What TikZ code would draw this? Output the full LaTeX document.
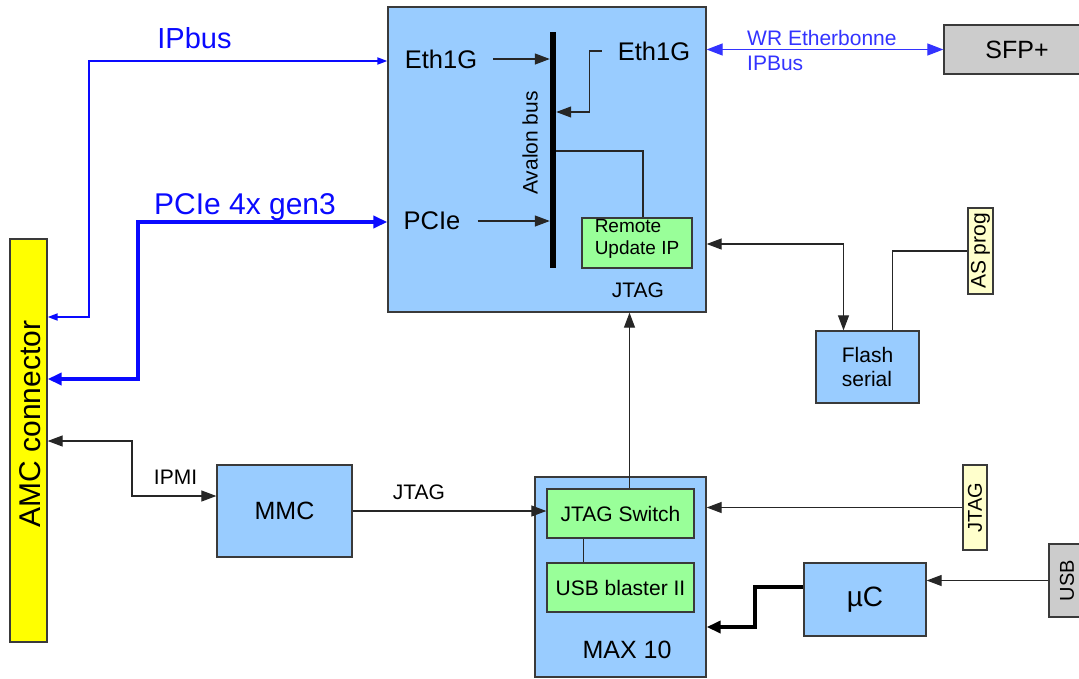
\documentclass[tikz,border=0pt]{standalone}
\usepackage{fontspec}
\setmainfont{Liberation Sans}
\usetikzlibrary{arrows.meta,positioning}
\definecolor{boxblue}{HTML}{99CCFF}
\definecolor{boxgreen}{HTML}{99FF99}
\definecolor{amcyellow}{HTML}{FFFF00}
\definecolor{padyellow}{HTML}{FFFFCC}
\definecolor{portgray}{HTML}{CCCCCC}
\definecolor{edgegray}{HTML}{3A3A3A}
\definecolor{linkblue}{HTML}{0A0AFF}
\definecolor{wrblue}{HTML}{3333FF}
\newcommand{\fsz}[2]{\fontsize{#1}{#2}\selectfont}

\begin{document}
\begin{tikzpicture}[
    x=1pt, y=-1pt,
    >={Triangle[length=15pt,width=11pt]},
    blockbox/.style={draw=edgegray, line width=1.3pt, fill=boxblue, inner sep=0pt},
    ipbox/.style={draw=edgegray, line width=1.3pt, fill=boxgreen, inner sep=0pt},
    padbox/.style={draw=edgegray, line width=1.3pt, fill=padyellow, inner sep=0pt},
    portbox/.style={draw=edgegray, line width=1.3pt, fill=portgray, inner sep=0pt},
    lbl/.style={inner sep=0pt, font=\fsz{21}{24}},
    biglbl/.style={inner sep=0pt, font=\fsz{25.5}{28}},
    siglink/.style={->, black!85, line width=1.2pt},
    sigline/.style={black!85, line width=1.2pt},
    ipbuslink/.style={<->, linkblue, line width=1.8pt,
                      >={Triangle[length=10pt,width=7pt]}},
    pcielink/.style={<->, linkblue, line width=3.5pt,
                     >={Triangle[length=14pt,width=12pt]}},
    wrlink/.style={<->, wrblue, line width=1.2pt,
                   >={Triangle[length=16pt,width=12pt]}},
    heavylink/.style={->, black, line width=4pt,
                      >={Triangle[length=14pt,width=12pt]}}
]
\useasboundingbox (0,0) rectangle (1079,678);
\clip (0,0) rectangle (1079,678);

% FPGA
\node[blockbox, minimum width=318, minimum height=305] (fpga) at (547,159.5) {};
\node[fill=black, inner sep=0pt, minimum width=6, minimum height=236] (bus) at (553,150) {};
\node[lbl, rotate=90] (avalon) at (530,143) {Avalon bus};
\node[biglbl] (eth1) at (441,59) {Eth1G};
\node[biglbl] (eth2) at (654,51) {Eth1G};
\node[biglbl] (pcie) at (432,221) {PCIe};
\node[ipbox, minimum width=110, minimum height=50, align=left,
      font=\fsz{19}{22}] (rupd) at (637,243) {Remote\\Update IP\\[-10pt]};
\node[lbl] (fpgajtag) at (638,290) {JTAG};

% right side
\node[portbox, minimum width=146, minimum height=49, font=\fsz{25}{28}] (sfp) at (1017,49.5) {SFP+};
\node[lbl, wrblue, anchor=west] (wrlbl) at (747,38) {WR Etherbonne};
\node[lbl, wrblue, anchor=west] (ipblbl) at (747,63) {IPBus};
\node[blockbox, minimum width=103, minimum height=72, align=left,
      font=\fsz{21}{24}] (flash) at (867.5,367) {Flash\\serial};
\node[padbox, minimum width=25, minimum height=86, font=\fsz{21}{24}] (asprog) at (980.5,251) {\rotatebox{90}{AS prog}};

% AMC side
\node[draw=edgegray, line width=1.3pt, fill=amcyellow, inner sep=0pt,
      minimum width=37, minimum height=403] (amc) at (28.5,440.5) {};
\node[inner sep=0pt, rotate=90, font=\fsz{30}{34}] (amclbl) at (30,424) {AMC connector};
\node[inner sep=0pt, linkblue, font=\fsz{29}{32}] (ipbuslbl) at (194.5,38) {IPbus};
\node[inner sep=0pt, linkblue, font=\fsz{30}{32}] (pcielbl) at (245,207) {PCIe 4x gen3};
\node[blockbox, minimum width=135, minimum height=92, font=\fsz{25}{28}] (mmc) at (284.5,511) {MMC};
\node[lbl] (ipmilbl) at (175.5,477) {IPMI};
\node[lbl] (mmcjtag) at (419,492) {JTAG};

% MAX 10
\node[blockbox, minimum width=171, minimum height=200] (maxten) at (620.5,577) {};
\node[inner sep=0pt, font=\fsz{25}{28}] (maxlbl) at (627,650) {MAX 10};
\node[ipbox, minimum width=147, minimum height=49, font=\fsz{21}{24}] (jsw) at (620.5,513.5) {JTAG Switch};
\node[ipbox, minimum width=147, minimum height=49, font=\fsz{21}{24}] (usbb) at (620.5,587.5) {USB blaster II};
\node[padbox, minimum width=24, minimum height=85, font=\fsz{20}{24}] (jtagin) at (975,507.5) {\rotatebox{90}{JTAG}};
\node[blockbox, minimum width=122, minimum height=73, font=\fsz{28}{32}] (uc) at (865,599.5) {µC};
\node[portbox, minimum width=36, minimum height=73, font=\fsz{20}{24}] (usb) at (1067,580.5) {\rotatebox{90}{USB}};

% links
\draw[ipbuslink] (fpga.west |- 0,61) -| (89,317) -- (amc.east |- 0,317);
\draw[pcielink] (fpga.west |- 0,222) -| (138,379) -- (amc.east |- 0,379);
\draw[wrlink] (fpga.east |- sfp.west) -- (sfp.west);
\draw[siglink, <->] (fpga.east |- 0,244) -| ([xshift=-24pt]flash.north);
\draw[sigline] ([xshift=25pt]flash.north) |- (asprog.west);

\draw[siglink, shorten <=16pt] (eth1.east) -- (eth1.east -| bus.west);
\draw[siglink, shorten <=16pt] (eth2.west) -- ++(-28,0) |- (bus.east |- 0,112);
\draw[siglink, shorten <=17pt] (pcie.east) -- (pcie.east -| bus.west);
\draw[sigline] (bus.east |- 0,151) -| ([xshift=6pt]rupd.north);

\draw[siglink, <->] (amc.east |- 0,441) -| (132,496) -- (mmc.west |- 0,496);
\draw[siglink] (mmc.east) -- (mmc.east -| jsw.west);
\draw[siglink] ([xshift=9pt]jsw.north) -- ([xshift=9pt]jsw.north |- fpga.south);
\draw[sigline] ([xshift=-37pt]jsw.south) -- ([xshift=-37pt]usbb.north);
\draw[siglink] (jtagin.west) -- (jtagin.west -| maxten.east);
\draw[siglink] (usb.west) -- (usb.west -| uc.east);
\draw[heavylink] (uc.west |- 0,587) -| (755,627) -- (maxten.east |- 0,627);

\end{tikzpicture}
\end{document}
